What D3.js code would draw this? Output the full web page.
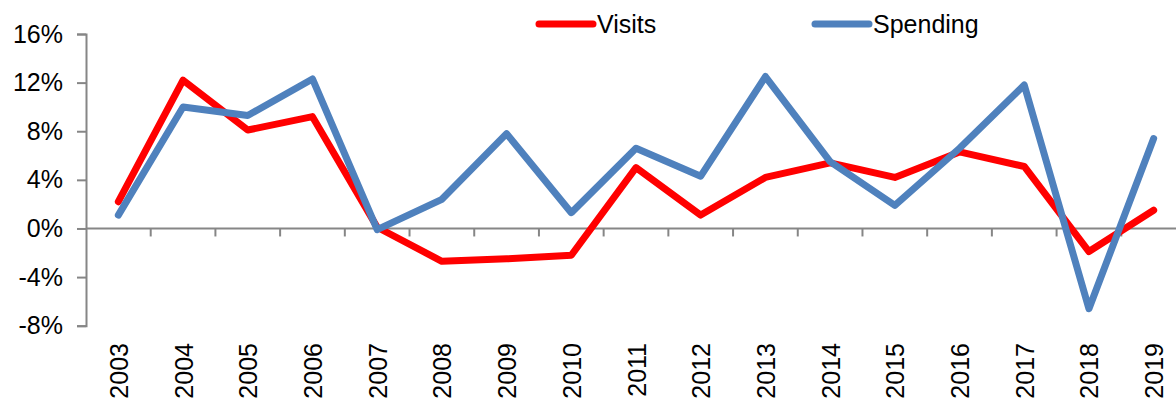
<!DOCTYPE html>
<html>
<head>
<meta charset="utf-8">
<script src="https://cdn.jsdelivr.net/npm/d3@7"></script>
<style>
  html, body { margin: 0; padding: 0; background: #fff; }
  svg { display: block; font-family: "Liberation Sans", Arial, sans-serif; }
</style>
</head>
<body>
<svg id="chart" width="1176" height="403"></svg>
<script>
// Year-on-year growth, per cent
const years = ["2003","2004","2005","2006","2007","2008","2009","2010","2011",
               "2012","2013","2014","2015","2016","2017","2018","2019"];
const visits = [2.2, 12.2, 8.1, 9.2, 0.1, -2.7, -2.5, -2.2, 5.0,
                1.1, 4.2, 5.4, 4.2, 6.3, 5.1, -1.9, 1.5];
const spending = [1.1, 10.0, 9.3, 12.3, -0.1, 2.4, 7.8, 1.3, 6.6,
                  4.3, 12.5, 5.5, 1.9, 6.6, 11.8, -6.6, 7.4];
const yTicks = [-8, -4, 0, 4, 8, 12, 16];
const seriesNames = ["Visits", "Spending"];

const svg = d3.select("#chart");
const axisColor = "#868686";
const fontSize = 25;

const x = d3.scaleBand().domain(years).range([86, 1186]);
const y = d3.scaleLinear().domain([-8, 16]).range([325.7, 34]);

// Vertical value axis
const yAxis = d3.axisLeft(y).tickValues(yTicks).tickSize(9).tickPadding(14)
  .tickFormat(d => d + "%");
const gy = svg.append("g").attr("transform", "translate(86,0)").call(yAxis);
gy.select(".domain").attr("stroke", axisColor).attr("stroke-width", 2);
gy.selectAll(".tick line").attr("stroke", axisColor).attr("stroke-width", 2);
gy.selectAll(".tick text").attr("font-size", fontSize).attr("fill", "#000")
  .attr("font-family", "Liberation Sans, Arial, sans-serif");

// Category axis along zero line, ticks between years
const gx = svg.append("g").attr("transform", `translate(0,${y(0)})`);
gx.append("line").attr("x1", 86).attr("x2", 1186).attr("y1", 0).attr("y2", 0)
  .attr("stroke", axisColor).attr("stroke-width", 2);
gx.selectAll("line.tk").data(years.slice(1)).join("line").attr("class", "tk")
  .attr("x1", d => x(d)).attr("x2", d => x(d)).attr("y1", 0).attr("y2", 8)
  .attr("stroke", axisColor).attr("stroke-width", 2);

// Year labels, rotated
svg.append("g").selectAll("text").data(years).join("text")
  .attr("transform", d => `translate(${x(d) + x.bandwidth() / 2 + 9.5},343) rotate(-90)`)
  .attr("text-anchor", "end")
  .attr("font-size", fontSize)
  .attr("fill", "#000")
  .text(d => d);

// Series lines
const line = d3.line()
  .x((d, i) => x(years[i]) + x.bandwidth() / 2)
  .y(d => y(d));

const series = [
  { name: seriesNames[0], values: visits, color: "#FF0000" },
  { name: seriesNames[1], values: spending, color: "#4F81BD" }
];

svg.append("g").selectAll("path").data(series).join("path")
  .attr("d", d => line(d.values))
  .attr("fill", "none")
  .attr("stroke", d => d.color)
  .attr("stroke-width", 7)
  .attr("stroke-linecap", "round")
  .attr("stroke-linejoin", "round");

// Legend
const legendX = [539, 815];
const lg = svg.append("g").selectAll("g").data(series).join("g")
  .attr("transform", (d, i) => `translate(${legendX[i]},24)`);
lg.append("line").attr("x1", 0).attr("x2", 54).attr("y1", 0).attr("y2", 0)
  .attr("stroke", d => d.color).attr("stroke-width", 7).attr("stroke-linecap", "round");
lg.append("text").attr("x", 58).attr("y", 9).attr("font-size", fontSize).attr("fill", "#000")
  .text(d => d.name);
</script>
</body>
</html>
